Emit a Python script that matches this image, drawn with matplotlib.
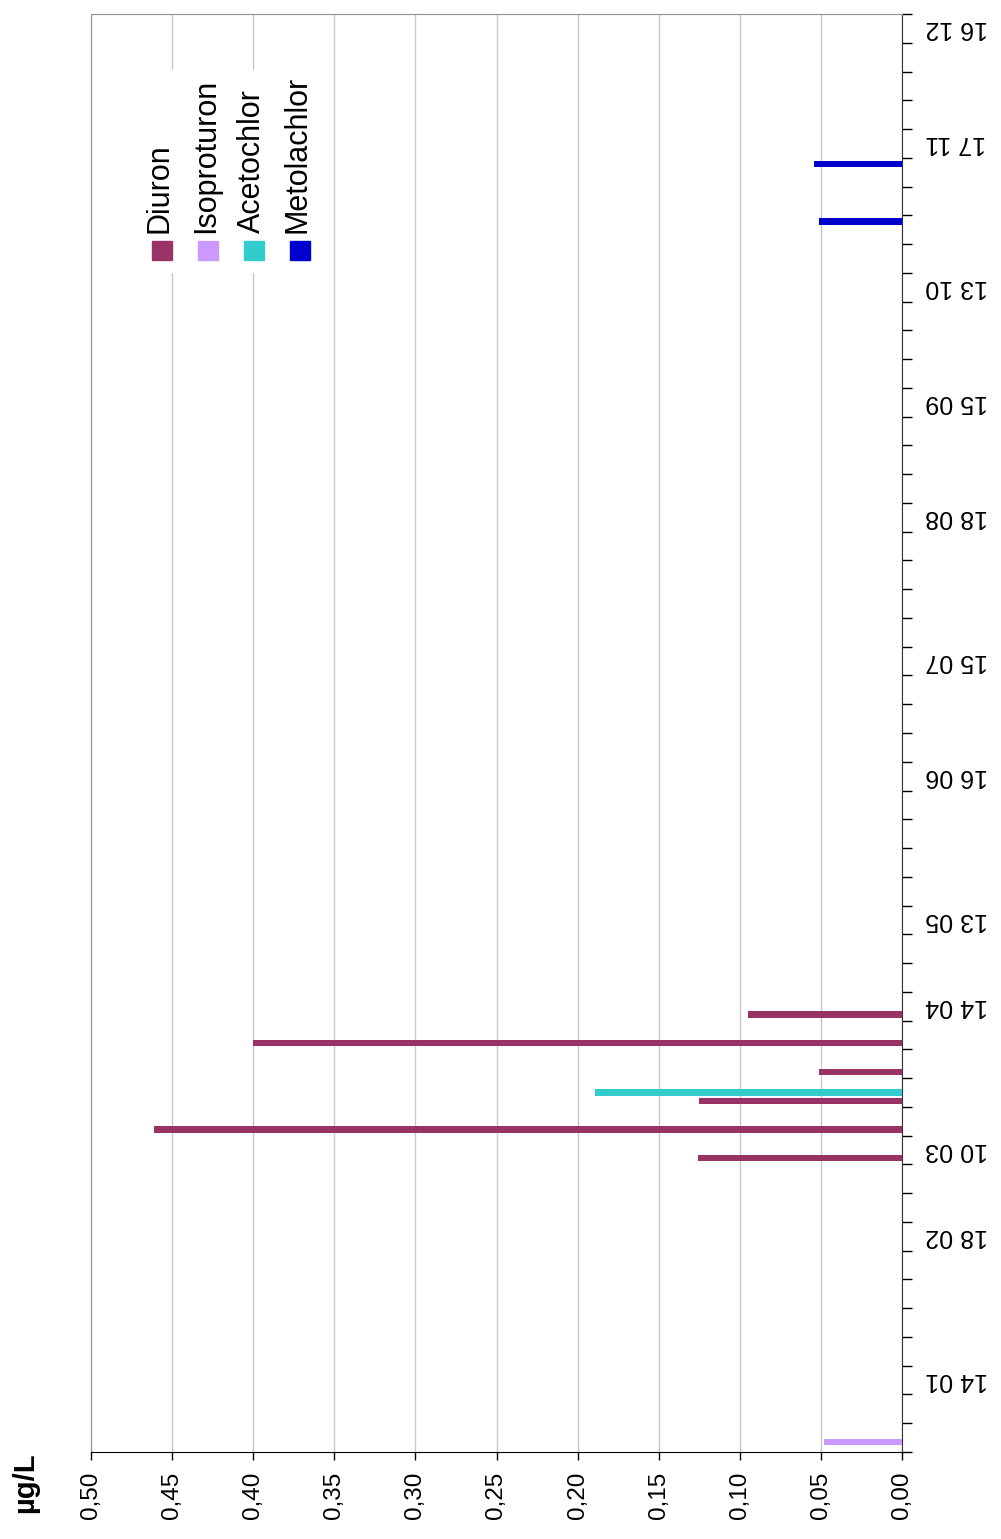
import matplotlib
matplotlib.use('Agg')
import matplotlib.pyplot as plt
import matplotlib.dates as mdates
from matplotlib.patches import Rectangle
import numpy as np
import pandas as pd

plt.rcParams['font.family'] = ['Liberation Sans', 'DejaVu Sans']

# data (µg/L per sampling date)
diuron_dates = ['2014-03-10', '2014-03-17', '2014-03-24', '2014-03-31', '2014-04-07', '2014-04-14']
diuron_vals = [0.126, 0.461, 0.125, 0.051, 0.400, 0.095]
isoproturon_dates = ['2013-12-31']
isoproturon_vals = [0.048]
acetochlor_dates = ['2014-03-26']
acetochlor_vals = [0.189]
metolachlor_dates = ['2014-10-24', '2014-11-07']
metolachlor_vals = [0.051, 0.054]

series_names = ['Diuron', 'Isoproturon', 'Acetochlor', 'Metolachlor']
series_colors = ['#993366', '#cc99ff', '#33cccc', '#0000cc']

date_labels = ['14 01', '18 02', '10 03', '14 04', '13 05', '16 06',
               '15 07', '18 08', '15 09', '13 10', '17 11', '16 12']
label_weeks = [2, 7, 10, 15, 18, 23, 27, 32, 36, 40, 45, 49]

axis_start = '2013-12-29'
axis_end = '2014-12-14'

W, H = 1001, 1539
fig = plt.figure(figsize=(W / 100, H / 100), dpi=100)
ax = fig.add_axes([91 / W, 1 - 1452 / H, 811 / W, 1438 / H])


def to_num(dates):
    # bars sit at the middle of the sampling day
    return mdates.date2num(pd.to_datetime(dates)) + 0.5


all_dates = [diuron_dates, isoproturon_dates, acetochlor_dates, metolachlor_dates]
all_vals = [diuron_vals, isoproturon_vals, acetochlor_vals, metolachlor_vals]
for dates, vals, color in zip(all_dates, all_vals, series_colors):
    ax.barh(to_num(dates), vals, height=1.5, color=color, zorder=3)

ax.set_xlim(0.5, 0)
t0 = mdates.date2num(pd.Timestamp(axis_start))
t1 = mdates.date2num(pd.Timestamp(axis_end))
ax.set_ylim(t0, t1)

# value axis (bottom)
xt = np.round(np.arange(0, 0.501, 0.05), 2)
ax.set_xticks(xt)
ax.set_xticklabels([f'{v:.2f}'.replace('.', ',') for v in xt], rotation=90, fontsize=17.5)
ax.tick_params(axis='x', length=6, width=1, pad=8, direction='out')
ax.grid(axis='x', color='#c8c8c8', lw=1)
ax.set_axisbelow(True)

# date axis (right)
ax.yaxis.tick_right()
ax.yaxis.set_minor_locator(mdates.WeekdayLocator(byweekday=mdates.SU))
ax.set_yticks(t0 + 7 * np.array(label_weeks) + 3.5)
ax.set_yticklabels(date_labels, rotation=180, fontsize=18, va='center')
ax.tick_params(axis='y', which='major', length=0, pad=17)
ax.tick_params(axis='y', which='minor', length=7, width=1, direction='out',
               right=True, left=False)

for side in ['left', 'top']:
    ax.spines[side].set_color('#909090')
ax.spines['right'].set_color('#333333')
ax.spines['bottom'].set_color('black')

# legend, drawn rotated like the rest of the chart
fig.patches.append(Rectangle((138 / W, 1 - 272 / H), 184 / W, 202 / H,
                             transform=fig.transFigure, color='white', zorder=1))
leg_x = [162, 208, 254, 300]
for name, color, x in zip(series_names, series_colors, leg_x):
    fig.patches.append(Rectangle(((x - 10) / W, 1 - 260 / H), 20 / W, 19 / H,
                                 transform=fig.transFigure, color=color, zorder=2))
    fig.text((x - 2) / W, 1 - 233 / H, name, rotation=90, ha='center', va='bottom',
             fontsize=22, zorder=3)

fig.text(25 / W, 1 - 1452 / H, 'µg/L', rotation=90, ha='center', va='top',
         fontsize=21, fontweight='bold')

fig.savefig('out.png', dpi=100)
